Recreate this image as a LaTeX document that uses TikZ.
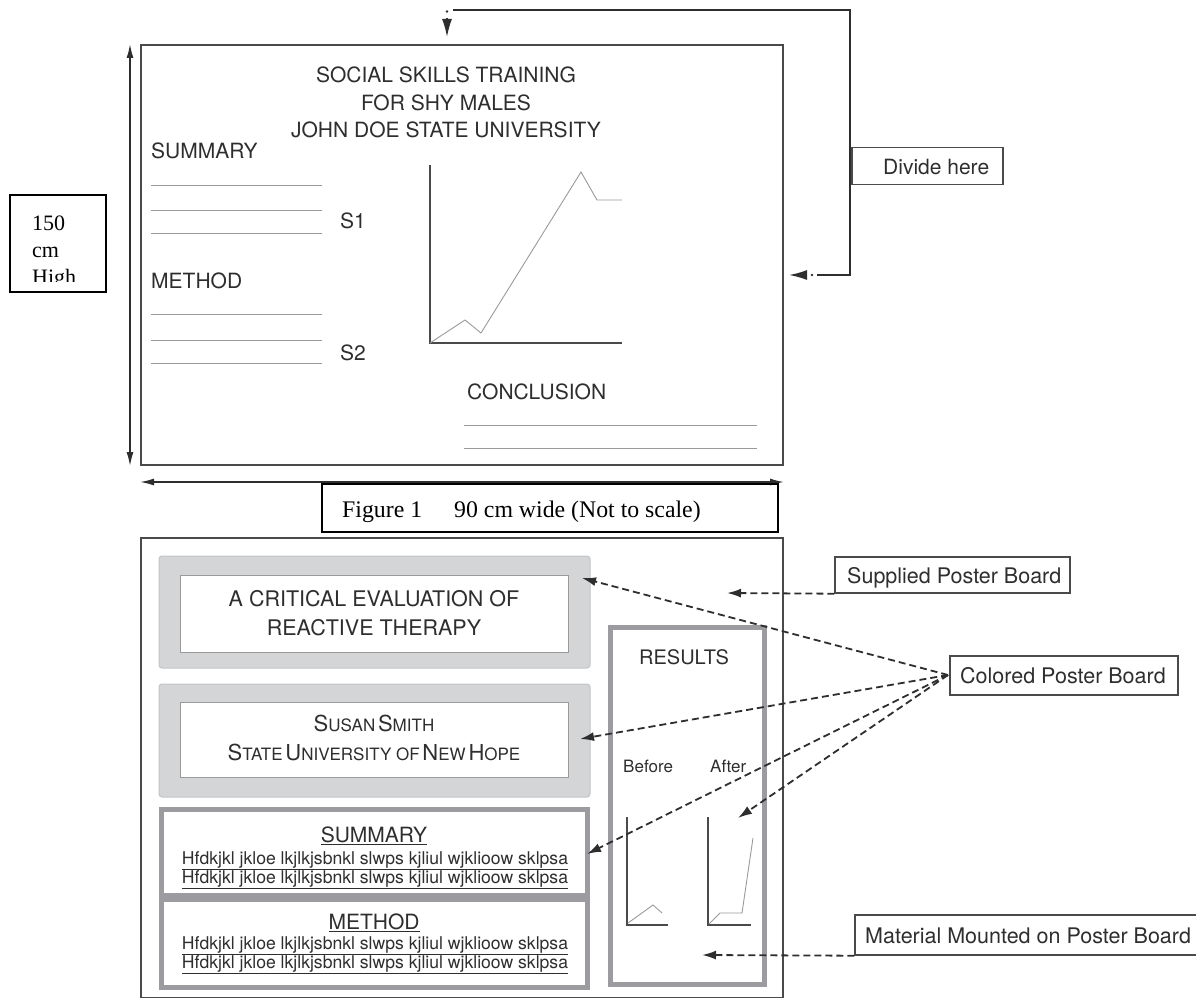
\documentclass[tikz,border=0pt]{standalone}
\usepackage{fontspec}
\setmainfont{TeX Gyre Heros}
\newfontfamily\tnr{Liberation Serif}
\usetikzlibrary{arrows.meta}
\definecolor{ink}{HTML}{2E2E2E}
\definecolor{rulegrey}{HTML}{9A9A9A}
\definecolor{panel}{HTML}{D3D5D7}
\definecolor{paneledge}{HTML}{C2C4C6}
\definecolor{frame}{HTML}{9C9CA0}
\definecolor{edge}{HTML}{4A4A4A}
\newcommand\fs[1]{\fontsize{#1}{#1}\selectfont}
\tikzset{
  txt/.style={inner sep=0pt, text=ink, anchor=base west},
  ctxt/.style={inner sep=0pt, text=ink, anchor=base},
  board/.style={draw=edge, line width=2pt, inner sep=0pt},
  labelbox/.style={draw=edge, line width=1.4pt, inner sep=0pt},
  rulel/.style={draw=rulegrey, line width=1pt},
  axis/.style={draw=edge, line width=2pt},
  dataline/.style={draw=rulegrey, line width=0.9pt},
  dimarrow/.style={draw=ink, line width=1.5pt, {Latex[length=14pt,width=7pt]}-{Latex[length=14pt,width=7pt]}},
  dashconn/.style={draw=ink, line width=1.8pt, dash pattern=on 7pt off 4pt, -{Latex[length=14pt,width=9pt]}},
  solidconn/.style={draw=ink, line width=1.6pt},
  tip/.style={draw=ink, line width=1.6pt, -{Latex[length=18pt,width=10pt]}},
  panelbox/.style={fill=panel, draw=paneledge, line width=1pt, rounded corners=3pt, inner sep=0pt},
  innerbox/.style={fill=white, draw=rulegrey, line width=1pt, inner sep=0pt},
  thickframe/.style={draw=frame, line width=5pt, inner sep=0pt},
  serif/.style={inner sep=0pt, anchor=base west, font=\tnr\fontsize{22}{22}\selectfont},
}
\begin{document}
\begin{tikzpicture}[x=1pt,y=-1pt]
\useasboundingbox (0,0) rectangle (1196,998);

% ===== top poster =====
\node[board, minimum width=642pt, minimum height=420pt] (top) at (462,255) {};
\draw[dimarrow] ([xshift=-10pt]top.north west) -- ([xshift=-10pt]top.south west);
\draw[dimarrow] ([yshift=-16pt]top.south west) -- ([yshift=-16pt]top.south east);

\node[ctxt] (t1) at (446,82) {\fs{21}SOCIAL SKILLS TRAINING};
\node[ctxt] (t2) at (446,110) {\fs{21}FOR SHY MALES};
\node[ctxt] (t3) at (446,137) {\fs{21}JOHN DOE STATE UNIVERSITY};
\node[txt] (tsum) at (151,158) {\fs{21}SUMMARY};
\node[txt] (ts1) at (340,228) {\fs{21}S1};
\node[txt] (tmet) at (151,288) {\fs{21}METHOD};
\node[txt] (ts2) at (340,360) {\fs{21}S2};
\node[txt] (tcon) at (467,399) {\fs{21}CONCLUSION};
\foreach \yy in {185,210,233,314,340,363} \draw[rulel] (151,\yy) -- (322,\yy);
\foreach \yy in {425,448} \draw[rulel] (464,\yy) -- (757,\yy);
% graph
\coordinate (gorig) at (430,343);
\draw[axis] (430,165) -- (gorig) -- (622,343);
\draw[dataline] (gorig) -- (465,320) -- (481,333) -- (581,172) -- (597,200) -- (622,200);

% 150 cm High
\node[draw=black, line width=1.4pt, minimum width=96pt, minimum height=97pt, inner sep=0pt] (hbox) at (58,243.5) {};
\begin{scope}
\clip (11,196) rectangle (105,281);
\node[serif] (h1) at (32,230) {150};
\node[serif] (h2) at (32,257) {cm};
\node[serif] (h3) at (32,284) {High};
\end{scope}

% caption
\node[draw=black, line width=1.4pt, minimum width=456pt, minimum height=48pt, inner sep=0pt] (cap) at (550,508) {};
\node[inner sep=0pt, anchor=base west, font=\tnr\fontsize{23.8}{24}\selectfont] (captxt) at (342,517) {Figure 1\hspace{32pt}90 cm wide (Not to scale)};

% Divide here
\node[labelbox, minimum width=151pt, minimum height=37pt] (divide) at (927.5,166) {};
\node[txt] (dividetxt) at (883,174) {\fs{21}Divide here};
\coordinate (dvend) at (817,275);
\draw[solidconn] (dvend) -- (850,275) -- (850,10) -- (453,10);
\fill[ink] (447,11.5) circle (1.4pt);
\draw[tip] (447,18) -- (447,37);
\fill[ink] (812,275) circle (1.4pt);
\draw[tip] (807,275) -- (789,275);

% ===== bottom poster =====
\node[board, minimum width=642pt, minimum height=460pt] (bottom) at (462,768) {};

\node[panelbox, minimum width=431pt, minimum height=112pt] (p1) at (374.5,612) {};
\node[innerbox, minimum width=388pt, minimum height=77pt] (p1in) at (374,613.5) {};
\node[ctxt] (p1a) at (374,606) {\fs{21.5}A CRITICAL EVALUATION OF};
\node[ctxt] (p1b) at (374,635) {\fs{21.5}REACTIVE THERAPY};

\node[panelbox, minimum width=431pt, minimum height=113pt] (p2) at (374.5,740.5) {};
\node[innerbox, minimum width=388pt, minimum height=75pt] (p2in) at (374,739.5) {};
\node[ctxt] (p2a) at (374,731) {{\fs{22}S}{\fs{17}USAN} {\fs{22}S}{\fs{17}MITH}};
\node[ctxt] (p2b) at (374,760) {{\fs{22}S}{\fs{17}TATE} {\fs{22}U}{\fs{17}NIVERSITY OF} {\fs{22}N}{\fs{17}EW} {\fs{22}H}{\fs{17}OPE}};

\node[thickframe, minimum width=426pt, minimum height=85.5pt] (sumbox) at (374.5,852.25) {};
\node[thickframe, minimum width=426pt, minimum height=88pt] (metbox) at (374.5,943.5) {};
\node[ctxt] (bsum) at (374,842) {\fs{21}\underline{SUMMARY}};
\node[ctxt] (bsum1) at (375,864) {\fs{17.6}\underline{Hfdkjkl jkloe lkjlkjsbnkl slwps kjliul wjklioow sklpsa}};
\node[ctxt] (bsum2) at (375,883) {\fs{17.6}\underline{Hfdkjkl jkloe lkjlkjsbnkl slwps kjliul wjklioow sklpsa}};
\node[ctxt] (bmet) at (374,929) {\fs{21}\underline{METHOD}};
\node[ctxt] (bmet1) at (375,949) {\fs{17.6}\underline{Hfdkjkl jkloe lkjlkjsbnkl slwps kjliul wjklioow sklpsa}};
\node[ctxt] (bmet2) at (375,968) {\fs{17.6}\underline{Hfdkjkl jkloe lkjlkjsbnkl slwps kjliul wjklioow sklpsa}};

% results
\node[thickframe, minimum width=154pt, minimum height=357pt] (res) at (687.5,806) {};
\node[ctxt] (restxt) at (684,664) {\fs{20}RESULTS};
\node[txt] (before) at (623,772) {\fs{17}Before};
\node[txt] (after) at (710,772) {\fs{17}After};
\draw[axis] (627,817) -- (627,925) -- (668,925);
\draw[dataline] (628,923) -- (653,905) -- (662,913);
\draw[axis] (708,817) -- (708,925) -- (751,925);
\draw[dataline] (709,924) -- (720,913) -- (742,913) -- (753,838);

% labels right
\node[labelbox, minimum width=235pt, minimum height=36pt] (supplied) at (952.5,575) {};
\node[txt] (suptxt) at (847,583) {\fs{21.5}Supplied Poster Board};
\node[labelbox, minimum width=228pt, minimum height=39pt] (colored) at (1064,675.5) {};
\node[txt] (coltxt) at (960,683) {\fs{21.5}Colored Poster Board};
\node[labelbox, minimum width=360pt, minimum height=40pt] (material) at (1035,935) {};
\node[txt] (mattxt) at (865,943) {\fs{21.5}Material Mounted on Poster Board};

\coordinate (supend) at (727,593);
\draw[dashconn] (supplied.south west) -- (supend);
\coordinate (matend) at (702,955);
\draw[dashconn] (material.south west) -- (matend);

\coordinate (cstart) at (948,675);
\coordinate (c1) at (582,578);
\coordinate (c2) at (580,739);
\coordinate (c3) at (587,854);
\coordinate (c4) at (738,818);
\draw[dashconn] (cstart) -- (c1);
\draw[dashconn] (cstart) -- (c2);
\draw[dashconn] (cstart) -- (c3);
\draw[dashconn] (cstart) -- (c4);
\end{tikzpicture}
\end{document}
